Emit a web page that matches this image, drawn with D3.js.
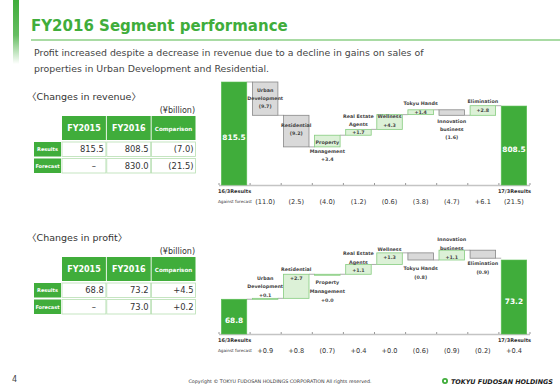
<!DOCTYPE html>
<html>
<head>
<meta charset="utf-8">
<script src="https://cdn.jsdelivr.net/npm/d3@7"></script>
<style>
  body { margin: 0; background: #fff; }
  svg { display: block; font-family: "DejaVu Sans", Verdana, sans-serif; }
</style>
</head>
<body>
<div class="slide"></div>
<script>
// 資料 (¥billion)
const stepNames = [['Urban','Development'], ['Residential'], ['Property','Management'], ['Real Estate','Agents'],
                   ['Wellness'], ['Tokyu Hands'], ['Innovation','business'], ['Elimination']];

const revStart = 815.5;
const revEnd = 808.5;
const revDelta = [-9.7, -9.2, 3.4, 1.7, 4.3, 1.4, -1.6, 2.8];
const revForecast = ['(11.0)','(2.5)','(4.0)','(1.2)','(0.6)','(3.8)','(4.7)','+6.1','(21.5)'];

const profitStart = 68.8;
const profitEnd = 73.2;
const profitDelta = [0.1, 2.7, 0.0, 1.1, 1.3, -0.8, 1.1, -0.9];
const profitForecast = ['+0.9','+0.8','(0.7)','+0.4','+0.0','(0.6)','(0.9)','(0.2)','+0.4'];

const tableCols = ['FY2015','FY2016','Comparison'];
const tableRows = ['Results','Forecast'];
const revTable = [['815.5','808.5','(7.0)'], ['–','830.0','(21.5)']];
const profitTable = [['68.8','73.2','+4.5'], ['–','73.0','+0.2']];

const GREEN = '#40ad3b';

const svg = d3.select('.slide').append('svg').attr('width', 560).attr('height', 388);
const defs = svg.append('defs');

// header
const g1 = defs.append('linearGradient').attr('id','barFade').attr('x1',0).attr('y1',0).attr('x2',0).attr('y2',1);
g1.append('stop').attr('offset','0%').attr('stop-color',GREEN);
g1.append('stop').attr('offset','55%').attr('stop-color',GREEN).attr('stop-opacity',0.8);
g1.append('stop').attr('offset','100%').attr('stop-color',GREEN).attr('stop-opacity',0);
svg.append('rect').attr('x',13).attr('y',0).attr('width',6).attr('height',64).attr('fill','url(#barFade)');

svg.append('text').attr('x',31).attr('y',31).text('FY2016 Segment performance')
   .style('font-size','15px').style('font-weight','bold').style('fill',GREEN);
svg.append('line').attr('x1',31).attr('x2',560).attr('y1',40).attr('y2',40)
   .style('stroke','#8ccf86').style('stroke-width',1.5);

const sub = svg.append('text').style('font-size','9.4px').style('fill','#444');
sub.append('tspan').attr('x',34).attr('y',55.5).text('Profit increased despite a decrease in revenue due to a decline in gains on sales of');
sub.append('tspan').attr('x',34).attr('y',71.5).text('properties in Urban Development and Residential.');

// 表格
function drawTable(title, rows, top){
    const g = svg.append('g');
    const t = g.append('text').attr('x',27).attr('y',top).style('font-size','9.5px').style('fill','#333');
    t.append('tspan').text('〈').style('font-family','"Noto Sans CJK JP"');
    t.append('tspan').text('Changes in ' + title);
    t.append('tspan').text('〉').style('font-family','"Noto Sans CJK JP"');
    g.append('text').attr('x',195).attr('y',top+13).attr('text-anchor','end').text('(¥billion)')
     .style('font-size','8px').style('fill','#333');

    const colX = d3.scaleBand().domain(tableCols).range([62,195.5]).paddingInner(0.02);
    const hTop = top + 16, hH = 24;
    g.selectAll('.hd').data(tableCols).enter().append('rect')
     .attr('x', d=>colX(d)).attr('y', hTop).attr('width', colX.bandwidth()).attr('height', hH)
     .attr('fill', GREEN);
    g.selectAll('.hdt').data(tableCols).enter().append('text')
     .attr('x', d=>colX(d)+colX.bandwidth()/2).attr('y', hTop+hH/2+2.8).attr('text-anchor','middle')
     .text(d=>d).style('fill','#fff').style('font-weight','bold')
     .style('font-size', d=>d==='Comparison' ? '5.6px' : '8px');

    const rowY = d3.scaleBand().domain(tableRows).range([hTop+hH+2, hTop+hH+33]).paddingInner(0.12);
    tableRows.forEach((r,i)=>{
        const y = rowY(r), h = rowY.bandwidth();
        g.append('rect').attr('x',34).attr('y',y).attr('width',27).attr('height',h).attr('fill',GREEN);
        g.append('text').attr('x',47.5).attr('y',y+h/2+2).attr('text-anchor','middle').text(r)
         .style('fill','#fff').style('font-weight','bold').style('font-size','5px');
        g.selectAll('.c'+i).data(rows[i]).enter().append('rect')
         .attr('x',(d,j)=>colX(tableCols[j])).attr('y',y).attr('width',colX.bandwidth()).attr('height',h)
         .attr('fill','#fff').attr('stroke','#b7dfb2').attr('stroke-width',0.8);
        g.selectAll('.t'+i).data(rows[i]).enter().append('text')
         .attr('x',(d,j)=>d==='–' ? colX(tableCols[j])+colX.bandwidth()-10 : colX(tableCols[j])+colX.bandwidth()-2)
         .attr('y',y+h/2+3).attr('text-anchor','end').text(d=>d)
         .style('font-size','8.4px').style('fill','#333');
    });
}
drawTable('revenue', revTable, 100);
drawTable('profit', profitTable, 241);

// 瀑布圖
function drawWaterfall(opt){
    const cats = ['start'].concat(stepNames.map((d,i)=>'s'+i)).concat(['end']);
    const x = d3.scaleBand().domain(cats).range([218.5, 529.5]).paddingInner(0.18).paddingOuter(0.09);
    const y = d3.scaleLinear().domain(opt.domain).range([opt.bottom, opt.top]);

    let level = opt.start;
    const steps = opt.delta.map((d,i)=>{
        const from = level; level = level + d;
        return {key:'s'+i, name:stepNames[i], from:from, to:level, delta:d};
    });
    const g = svg.append('g');

    // axis
    const xTick = d3.scaleLinear().domain([0,cats.length]).range([x.range()[0], x.range()[1]]);
    const axis = d3.axisBottom(xTick).ticks(cats.length).tickFormat('').tickSizeInner(-2).tickSizeOuter(0);
    const ax = g.append('g').attr('transform',`translate(0,${opt.bottom})`).call(axis);
    ax.select('.domain').style('stroke','#c4c4c4').style('stroke-width',1.4);
    ax.selectAll('.tick line').style('stroke','#999');

    // connectors
    const levels = [{key:'start', v:opt.start}].concat(steps.map(s=>({key:s.key, v:s.to})));
    g.selectAll('.conn').data(levels).enter().append('line')
     .attr('x1', d=>x(d.key)+x.bandwidth()).attr('x2', (d,i)=>x(cats[i+1]))
     .attr('y1', d=>y(d.v)).attr('y2', d=>y(d.v))
     .style('stroke','#888').style('stroke-width',0.7);

    // start / end bars
    const ends = [{key:'start', v:opt.start}, {key:'end', v:opt.end}];
    g.selectAll('.endbar').data(ends).enter().append('rect')
     .attr('x', d=>x(d.key)).attr('width', x.bandwidth())
     .attr('y', d=>y(d.v)).attr('height', d=>opt.bottom - y(d.v))
     .attr('fill', GREEN).attr('stroke','#5cbf56').attr('stroke-width',0.6);
    g.selectAll('.endlab').data(ends).enter().append('text')
     .attr('x', d=>x(d.key)+x.bandwidth()/2).attr('y', d=>(y(d.v)+opt.bottom)/2+6.5)
     .attr('text-anchor','middle').text(d=>d.v.toFixed(1))
     .style('fill','#fff').style('font-weight','bold').style('font-size','7.4px');

    // step boxes
    g.selectAll('.step').data(steps).enter().append('rect')
     .attr('x', d=>x(d.key)).attr('width', x.bandwidth())
     .attr('y', d=>y(Math.max(d.from,d.to))).attr('height', d=>Math.max(1, Math.abs(y(d.from)-y(d.to))))
     .attr('fill', d=>d.delta>=0 ? '#dcf1d7' : '#d9d9d9')
     .attr('stroke', d=>d.delta>=0 ? '#86cc7f' : '#888').attr('stroke-width',0.8);

    // step labels
    const fmt = v => v < 0 ? `(${Math.abs(v).toFixed(1)})` : `+${v.toFixed(1)}`;
    steps.forEach((s,i)=>{
        const lines = s.name.concat([fmt(s.delta)]);
        const y0 = y(Math.max(s.from,s.to)) + opt.labelDy[i];
        g.append('text').attr('text-anchor','middle')
         .style('font-size','4.8px').style('font-weight','bold').style('fill','#444')
         .selectAll('tspan').data(lines).enter().append('tspan')
         .attr('x', x(s.key)+x.bandwidth()/2).attr('y', (d,k)=>y0 + k*opt.lineH).text(d=>d);
    });

    // 類別與預測差異
    const by = opt.bottom + 8;
    g.append('text').attr('x',218).attr('y',by).text('16/3Results')
     .style('font-size','5px').style('font-weight','bold').style('fill','#333');
    g.append('text').attr('x',531).attr('y',by).attr('text-anchor','end').text('17/3Results')
     .style('font-size','5px').style('font-weight','bold').style('fill','#333');
    g.append('text').attr('x',218).attr('y',by+10).text('Against forecast')
     .style('font-size','4.2px').style('fill','#333');
    g.selectAll('.fc').data(opt.forecast).enter().append('text')
     .attr('x', (d,i)=>x(cats[i+1])+x.bandwidth()/2).attr('y', by+10.5)
     .attr('text-anchor','middle').text(d=>d)
     .style('font-size','6.6px').style('fill','#333');
}

drawWaterfall({start:revStart, end:revEnd, delta:revDelta, forecast:revForecast,
    domain:[785.5, 815.5], top:82, bottom:185, lineH:8.3,
    labelDy:[9.8, 11.8, 9, -11.8, 3.8, -4.5, 12.8, -2.2]});
drawWaterfall({start:profitStart, end:profitEnd, delta:profitDelta, forecast:profitForecast,
    domain:[64.9, 73.2], top:260, bottom:334, lineH:8.6,
    labelDy:[-18.8, -2.8, 10.2, -9.2, -2.2, 17.2, -8.8, 15.2]});

// footer
svg.append('text').attr('x',12).attr('y',382).text('4').style('font-size','8px').style('fill','#444');
svg.append('text').attr('x',280).attr('y',383).attr('text-anchor','middle')
   .text('Copyright © TOKYU FUDOSAN HOLDINGS CORPORATION All rights reserved.')
   .style('font-size','4.8px').style('fill','#333');
svg.append('circle').attr('cx',445).attr('cy',381).attr('r',3).attr('fill',GREEN);
svg.append('circle').attr('cx',445).attr('cy',381).attr('r',1.2).attr('fill','#fff');
svg.append('text').attr('x',451).attr('y',383.5).text('TOKYU FUDOSAN HOLDINGS')
   .style('font-size','6.4px').style('font-weight','bold').style('font-style','italic').style('fill','#1a1a1a');
</script>
</body>
</html>
